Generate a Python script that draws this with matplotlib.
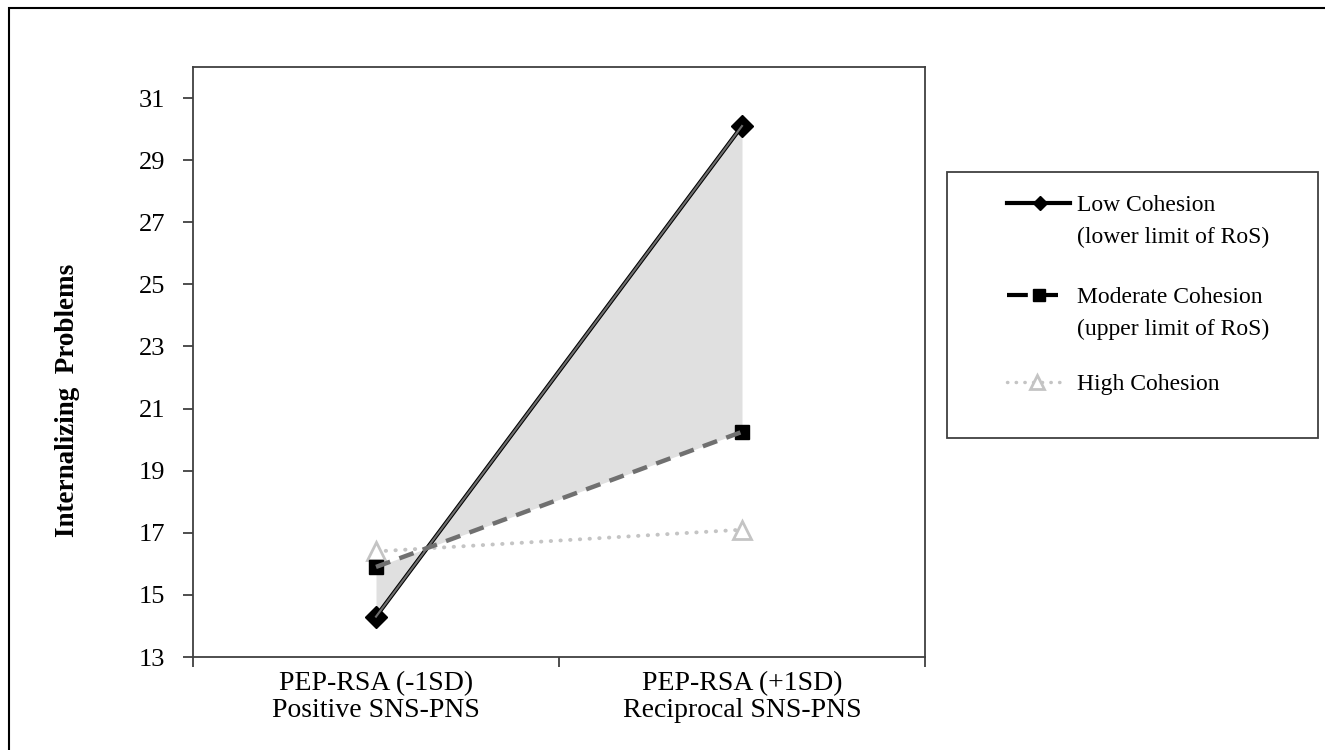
import numpy as np
import matplotlib.pyplot as plt
from matplotlib.lines import Line2D
from matplotlib.patches import Rectangle

plt.rcParams['font.family'] = ['Liberation Serif', 'DejaVu Serif']

# data
categories = ['PEP-RSA (-1SD)\nPositive SNS-PNS', 'PEP-RSA (+1SD)\nReciprocal SNS-PNS']
low_cohesion = [14.3, 30.1]
moderate_cohesion = [15.9, 20.25]
high_cohesion = [16.4, 17.1]
series_names = ['Low Cohesion\n(lower limit of RoS)',
                'Moderate Cohesion\n(upper limit of RoS)',
                'High Cohesion']
y_ticks = [13, 15, 17, 19, 21, 23, 25, 27, 29, 31]

x = np.array([0.5, 1.5])
W, H = 1325, 750

fig = plt.figure(figsize=(13.25, 7.5), dpi=100)
ax = fig.add_axes([193/W, 1-657/H, 732/W, 590/H])

# region of significance shading
ax.fill_between(x, low_cohesion, moderate_cohesion, color='#e0e0e0', lw=0, zorder=1)

# low cohesion: black line with grey core
ax.plot(x, low_cohesion, color='black', lw=3.0, marker='D', ms=11, zorder=3)
ax.plot(x, low_cohesion, color='#6e6e6e', lw=1.5, zorder=4)
# moderate cohesion
ax.plot(x, moderate_cohesion, color='black', lw=0, marker='s', ms=9.5, zorder=3)
ax.plot(x, moderate_cohesion, color='#707070', lw=3.2, linestyle=(0, (3.4, 2.2)), zorder=4)
# high cohesion
ax.plot(x, high_cohesion, color='#c4c4c4', lw=2.8, linestyle=(0, (0.1, 2.4)),
        dash_capstyle='round', marker='^', ms=13, mfc='white', mec='#c4c4c4', mew=2, zorder=2)

ax.set_xlim(0, 2)
ax.set_ylim(13, 32)
ax.set_yticks(y_ticks)
ax.tick_params(axis='y', labelsize=19, direction='out', length=7, width=1.3, color='#404040', pad=13)
ax.set_xticks([0, 1, 2])
ax.set_xticklabels([])
ax.tick_params(axis='x', which='major', direction='out', length=7, width=1.3, color='#404040')
ax.set_xticks(x, minor=True)
ax.set_xticklabels(categories, minor=True, fontsize=20, linespacing=1.1)
ax.tick_params(axis='x', which='minor', length=0, pad=10)
for s in ax.spines.values():
    s.set_color('#404040')
    s.set_linewidth(1.3)

fig.text(68/W, 1-400/H, 'Internalizing  Problems', fontsize=19.5, fontweight='bold',
         rotation=90, ha='center', va='center')

# legend box, drawn by hand to follow the reference layout
fig.patches.append(Rectangle((947/W, 1-438/H), 371/W, 266/H, transform=fig.transFigure,
                             fill=False, edgecolor='#404040', lw=1.3))
tf = fig.transFigure
leg_y = [203, 295, 382]
fig.add_artist(Line2D([1007/W, 1070/W], [1-leg_y[0]/H]*2, transform=tf, color='black', lw=3))
fig.add_artist(Line2D([1040/W], [1-leg_y[0]/H], transform=tf, color='black', marker='D', ms=7, lw=0))
fig.add_artist(Line2D([1007/W, 1058/W], [1-leg_y[1]/H]*2, transform=tf, color='black', lw=3,
                      linestyle=(0, (5, 3.2))))
fig.add_artist(Line2D([1039/W], [1-leg_y[1]/H], transform=tf, color='black', marker='s', ms=9, lw=0))
fig.add_artist(Line2D([1007/W, 1060/W], [1-leg_y[2]/H]*2, transform=tf, color='#c4c4c4', lw=2.5,
                      linestyle=(0, (0.1, 2.4)), dash_capstyle='round'))
fig.add_artist(Line2D([1037/W], [1-leg_y[2]/H], transform=tf, color='#c4c4c4', marker='^', ms=10,
                      mfc='white', mec='#c4c4c4', mew=2, lw=0))
for yy, name in zip(leg_y, series_names):
    fig.text(1077/W, 1-(yy-8)/H, name, fontsize=17, ha='left', va='top', linespacing=1.65)

# outer frame
fig.patches.append(Rectangle((9/W, -0.1), 1.2, 1-8/H+0.1, transform=fig.transFigure,
                             fill=False, edgecolor='black', lw=1.5))

fig.savefig('out.png', dpi=100)
